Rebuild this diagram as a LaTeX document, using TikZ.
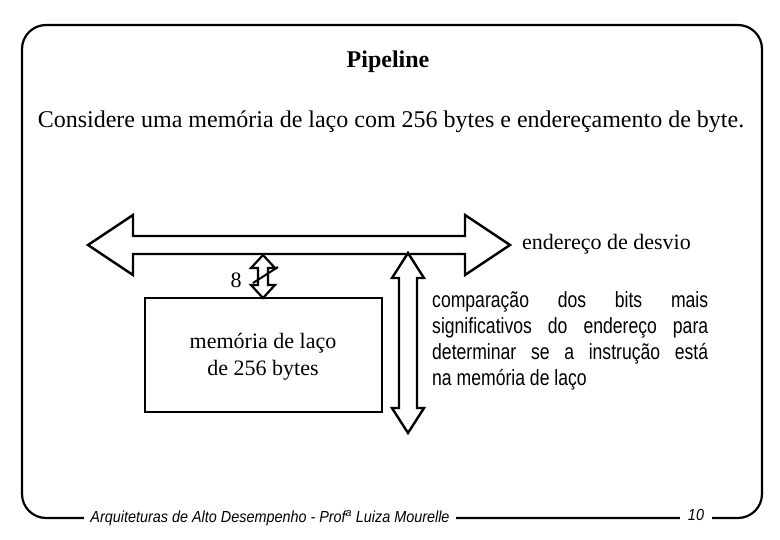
\documentclass[tikz,border=0pt]{standalone}
\usepackage{fontspec}
\setmainfont{Liberation Serif}
\newfontfamily\narrow[FakeStretch=0.8]{Liberation Sans}
\newfontfamily\foot[FakeStretch=0.9]{Liberation Sans}
\begin{document}
\begin{tikzpicture}[x=1pt,y=-1pt,
  lbl/.style={inner sep=0pt}]
\useasboundingbox (0,0) rectangle (780,540);
\draw[line width=2.2pt,rounded corners=24pt] (22,25) rectangle (762,518);
\node[lbl] (title) at (388,62) {\fontsize{24}{28}\selectfont\bfseries Pipeline};
\node[lbl] (sub) at (391,122) {\fontsize{24}{28}\selectfont Considere uma memória de laço com 256 bytes e endereçamento de byte.};
% bus
\draw[line width=2.4pt] (88,245)--(133,215)--(133,236)--(465,236)--(465,215)--(510,245)--(465,275)--(465,254)--(133,254)--(133,275)--cycle;
\node[lbl,anchor=west] (desvio) at (522,244) {\fontsize{22}{26}\selectfont endereço de desvio};
% small arrow
\draw[line width=2.2pt] (263,255)--(275,268)--(268,268)--(268,285)--(275,285)--(263,298)--(251,285)--(258,285)--(258,268)--(251,268)--cycle;
\draw[line width=2pt] (253,283)--(278,267);
\node[lbl] (eight) at (236,280) {\fontsize{22}{26}\selectfont 8};
% memory box
\draw[line width=2.4pt] (145,298) rectangle (382,412);
\node[lbl,align=center,font=\fontsize{22}{27}\selectfont] (mem) at (263,357) {memória de laço\\de 256 bytes};
% vertical arrow
\draw[line width=2.4pt] (408,253)--(424,278)--(417,278)--(417,408)--(424,408)--(408,433)--(392,408)--(399,408)--(399,278)--(392,278)--cycle;
\node[lbl,anchor=north west,text width=276pt,align=justify,font=\narrow\fontsize{22}{26}\selectfont] (txt) at (432,291) {\hyphenpenalty=10000 comparação dos bits mais\linebreak significativos do endereço para\linebreak determinar se a instrução está\linebreak na memória de laço};
% footer
\node[fill=white,inner xsep=6pt,inner ysep=3pt] (f1) at (270,518) {\foot\itshape\fontsize{16}{18}\selectfont Arquiteturas de Alto Desempenho - Prof\textsuperscript{a} Luiza Mourelle};
\node[fill=white,inner xsep=8pt,inner ysep=3pt] (f2) at (696,515) {\foot\itshape\fontsize{16}{18}\selectfont 10};
\end{tikzpicture}
\end{document}
